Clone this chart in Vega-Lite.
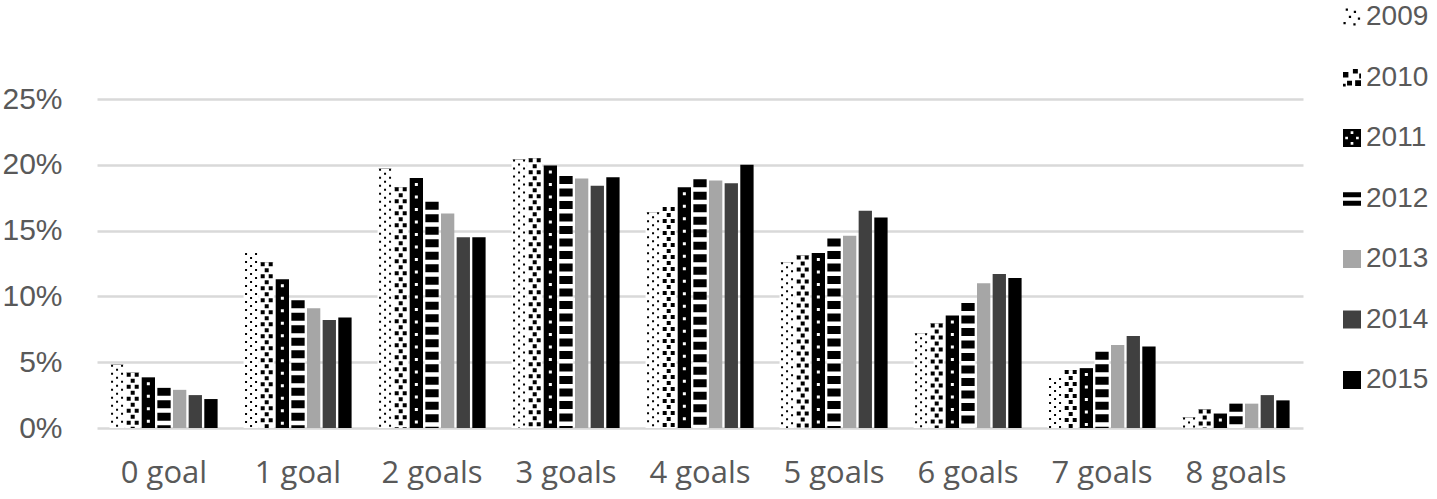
{
  "$schema": "https://vega.github.io/schema/vega-lite/v6.json",
  "autosize": {"type": "none"},
  "width": 1206,
  "height": 329,
  "padding": {"left": 97, "top": 99, "right": 134, "bottom": 71},
  "background": "white",
  "config": {"view": {"stroke": null}, "legend": {"symbolType": "square"}},
  "datasets": {
    "d": [
      {"g": "0 goal", "y": "2009", "v": 0.048}, {"g": "0 goal", "y": "2010", "v": 0.042}, {"g": "0 goal", "y": "2011", "v": 0.0385}, {"g": "0 goal", "y": "2012", "v": 0.0305}, {"g": "0 goal", "y": "2013", "v": 0.029}, {"g": "0 goal", "y": "2014", "v": 0.025}, {"g": "0 goal", "y": "2015", "v": 0.022},
      {"g": "1 goal", "y": "2009", "v": 0.133}, {"g": "1 goal", "y": "2010", "v": 0.126}, {"g": "1 goal", "y": "2011", "v": 0.113}, {"g": "1 goal", "y": "2012", "v": 0.097}, {"g": "1 goal", "y": "2013", "v": 0.091}, {"g": "1 goal", "y": "2014", "v": 0.082}, {"g": "1 goal", "y": "2015", "v": 0.084},
      {"g": "2 goals", "y": "2009", "v": 0.197}, {"g": "2 goals", "y": "2010", "v": 0.183}, {"g": "2 goals", "y": "2011", "v": 0.19}, {"g": "2 goals", "y": "2012", "v": 0.172}, {"g": "2 goals", "y": "2013", "v": 0.163}, {"g": "2 goals", "y": "2014", "v": 0.145}, {"g": "2 goals", "y": "2015", "v": 0.145},
      {"g": "3 goals", "y": "2009", "v": 0.204}, {"g": "3 goals", "y": "2010", "v": 0.205}, {"g": "3 goals", "y": "2011", "v": 0.1995}, {"g": "3 goals", "y": "2012", "v": 0.1915}, {"g": "3 goals", "y": "2013", "v": 0.1895}, {"g": "3 goals", "y": "2014", "v": 0.184}, {"g": "3 goals", "y": "2015", "v": 0.1905},
      {"g": "4 goals", "y": "2009", "v": 0.164}, {"g": "4 goals", "y": "2010", "v": 0.168}, {"g": "4 goals", "y": "2011", "v": 0.183}, {"g": "4 goals", "y": "2012", "v": 0.189}, {"g": "4 goals", "y": "2013", "v": 0.188}, {"g": "4 goals", "y": "2014", "v": 0.186}, {"g": "4 goals", "y": "2015", "v": 0.2},
      {"g": "5 goals", "y": "2009", "v": 0.126}, {"g": "5 goals", "y": "2010", "v": 0.131}, {"g": "5 goals", "y": "2011", "v": 0.133}, {"g": "5 goals", "y": "2012", "v": 0.144}, {"g": "5 goals", "y": "2013", "v": 0.146}, {"g": "5 goals", "y": "2014", "v": 0.165}, {"g": "5 goals", "y": "2015", "v": 0.16},
      {"g": "6 goals", "y": "2009", "v": 0.072}, {"g": "6 goals", "y": "2010", "v": 0.0795}, {"g": "6 goals", "y": "2011", "v": 0.0855}, {"g": "6 goals", "y": "2012", "v": 0.095}, {"g": "6 goals", "y": "2013", "v": 0.11}, {"g": "6 goals", "y": "2014", "v": 0.117}, {"g": "6 goals", "y": "2015", "v": 0.114},
      {"g": "7 goals", "y": "2009", "v": 0.038}, {"g": "7 goals", "y": "2010", "v": 0.044}, {"g": "7 goals", "y": "2011", "v": 0.0455}, {"g": "7 goals", "y": "2012", "v": 0.058}, {"g": "7 goals", "y": "2013", "v": 0.063}, {"g": "7 goals", "y": "2014", "v": 0.07}, {"g": "7 goals", "y": "2015", "v": 0.062},
      {"g": "8 goals", "y": "2009", "v": 0.008}, {"g": "8 goals", "y": "2010", "v": 0.014}, {"g": "8 goals", "y": "2011", "v": 0.011}, {"g": "8 goals", "y": "2012", "v": 0.0185}, {"g": "8 goals", "y": "2013", "v": 0.0185}, {"g": "8 goals", "y": "2014", "v": 0.025}, {"g": "8 goals", "y": "2015", "v": 0.021}
    ]
  },
  "data": {"name": "d"},
  "encoding": {
    "x": {
      "field": "g", "type": "nominal",
      "scale": {"paddingInner": 0.2, "paddingOuter": 0.1},
      "axis": {"title": null, "labelAngle": 0, "ticks": false, "domain": false, "labelPadding": 30, "labelFont": "Open Sans", "labelFontSize": 31, "labelColor": "#595959"}
    },
    "xOffset": {"field": "y", "type": "nominal", "scale": {"paddingInner": 0.15, "paddingOuter": 0}},
    "y": {
      "field": "v", "type": "quantitative",
      "scale": {"domain": [0, 0.25], "nice": false},
      "axis": {"title": null, "values": [0, 0.05, 0.1, 0.15, 0.2, 0.25], "format": ".0%", "ticks": false, "domain": false, "grid": true, "gridColor": "#d9d9d9", "gridWidth": 2.5, "labelPadding": 35, "labelFont": "Liberation Sans", "labelFontSize": 30, "labelColor": "#595959"}
    }
  },
  "layer": [
    {
      "mark": {"type": "bar"},
      "encoding": {
        "color": {
          "field": "y", "type": "nominal",
          "scale": {"domain": ["2009", "2010", "2011", "2012", "2013", "2014", "2015"], "range": ["#000000", "#000000", "#000000", "#000000", "#a6a6a6", "#404040", "#000000"]},
          "legend": {
            "title": null, "orient": "none", "legendX": 1241, "legendY": -96, "padding": 0,
            "symbolStrokeWidth": 0, "labelFont": "Liberation Sans", "labelFontSize": 28, "labelColor": "#595959", "labelOffset": 0, "rowPadding": 32.5,
            "encode": {
              "symbols": {
                "update": {
                  "shape": {"signal": "datum.value == '2009' ? 'M-1.26,-1.71h0.45v0.45h-0.45z M0.36,-1.26h0.45v0.45h-0.45z M-0.63,-0.27h0.45v0.45h-0.45z M1.17,0.09h0.45v0.45h-0.45z M-1.71,0.99h0.45v0.45h-0.45z M0.27,1.26h0.45v0.45h-0.45z' : datum.value == '2010' ? 'M-1.8,-1.08h1.08v1.08h-1.08z M0.18,-1.71h0.99v0.9h-0.99z M0.63,0.54h1.17v1.17h-1.17z M-0.99,0.63h0.99v0.99h-0.99z M-1.8,1.26h0.54v0.54h-0.54z M1.44,-0.81h0.36v0.99h-0.36z' : datum.value == '2011' ? 'M-1.8,-1.8H1.8V1.8H-1.8Z M-0.27,-1.35v0.54h0.54v-0.54z M-1.35,-0.27v0.54h0.54v-0.54z M0.81,-0.27v0.54h0.54v-0.54z M-0.27,0.81v0.54h0.54v-0.54z' : datum.value == '2012' ? 'M-1.8,-1.26H1.8V-0.27H-1.8Z M-1.8,0.45H1.8V1.44H-1.8Z' : 'M-1.8,-1.8H1.8V1.8H-1.8Z'"}
                }
              }
            }
          }
        }
      }
    },
    {
      "transform": [{"filter": "datum.y == '2009' || datum.y == '2010'"}],
      "mark": {"type": "rule", "stroke": "white", "strokeWidth": 15, "strokeCap": "butt"},
      "encoding": {"y2": {"datum": 0}}
    },
    {
      "transform": [{"filter": "datum.y == '2012'"}],
      "mark": {"type": "rule", "stroke": "white", "strokeWidth": 15, "strokeDash": [4.5, 8], "strokeDashOffset": -8, "strokeCap": "butt"},
      "encoding": {"y2": {"datum": 0}}
    },
    {
      "transform": [{"filter": "datum.y == '2011'"}],
      "mark": {"type": "rule", "stroke": "white", "strokeWidth": 3, "strokeDash": [3, 9.5], "strokeDashOffset": -5, "strokeCap": "butt"},
      "encoding": {"y2": {"datum": 0}}
    },
    {
      "transform": [{"filter": "datum.y == '2009'"}],
      "mark": {"type": "rule", "stroke": "black", "strokeWidth": 12, "strokeDash": [2, 6], "strokeCap": "butt"},
      "encoding": {"y2": {"datum": 0}}
    },
    {
      "transform": [{"filter": "datum.y == '2009'"}],
      "mark": {"type": "rule", "stroke": "white", "strokeWidth": 8, "strokeCap": "butt"},
      "encoding": {"y2": {"datum": 0}}
    },
    {
      "transform": [{"filter": "datum.y == '2009'"}],
      "mark": {"type": "rule", "stroke": "black", "strokeWidth": 2, "strokeDash": [2, 6], "strokeDashOffset": -4, "strokeCap": "butt"},
      "encoding": {"y2": {"datum": 0}}
    },
    {
      "transform": [{"filter": "datum.y == '2010'"}],
      "mark": {"type": "rule", "stroke": "black", "strokeWidth": 12, "strokeDash": [4, 8], "strokeCap": "butt"},
      "encoding": {"y2": {"datum": 0}}
    },
    {
      "transform": [{"filter": "datum.y == '2010'"}],
      "mark": {"type": "rule", "stroke": "white", "strokeWidth": 4, "strokeCap": "butt"},
      "encoding": {"y2": {"datum": 0}}
    },
    {
      "transform": [{"filter": "datum.y == '2010'"}],
      "mark": {"type": "rule", "stroke": "black", "strokeWidth": 4, "strokeDash": [4, 8], "strokeDashOffset": -6, "strokeCap": "butt"},
      "encoding": {"y2": {"datum": 0}}
    }
  ]
}
